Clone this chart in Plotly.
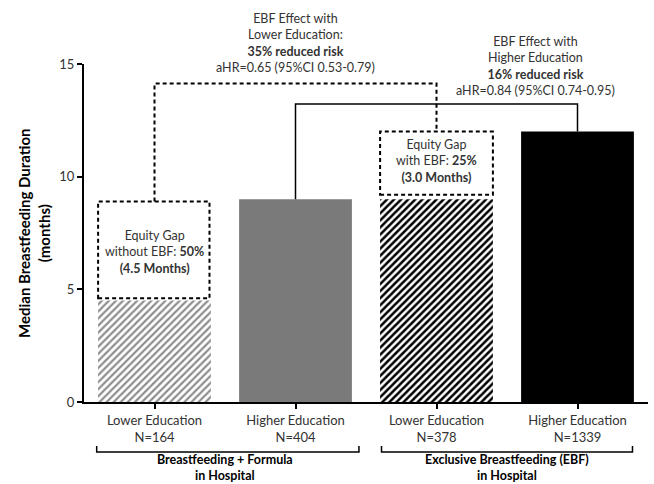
import plotly.graph_objects as go

# ---- data ----
categories = ["Lower Education<br>N=164", "Higher Education<br>N=404",
              "Lower Education<br>N=378", "Higher Education<br>N=1339"]
durations = [4.5, 9, 9, 12]
bar_colors = ["white", "#7a7a7a", "white", "black"]
hatch_colors = ["#8e8e8e", None, "black", None]
group_labels = ["<b>Breastfeeding + Formula<br>in Hospital</b>",
                "<b>Exclusive Breastfeeding (EBF)<br>in Hospital</b>"]
y_ticks = [0, 5, 10, 15]
gap_text = ["Equity Gap<br>without EBF: <b>50%</b><br><b>(4.5 Months)</b>",
            "Equity Gap<br>with EBF: <b>25%</b><br><b>(3.0 Months)</b>"]
effect_text = ["EBF Effect with<br>Lower Education:<br><b>35% reduced risk</b><br>aHR=0.65 (95%CI 0.53-0.79)",
               "EBF Effect with<br>Higher Education<br><b>16% reduced risk</b><br>aHR=0.84 (95%CI 0.74-0.95)"]

FONT = "Lato"
TXT = "#333333"
YMAX = 15
XMIN, XMAX = -0.5, 3.5
PLOT_H = 338.0
Y0_PX = 402.0


def px(x):  # data x -> paper
    return (x - XMIN) / (XMAX - XMIN)


def py(y):  # data y -> paper
    return y / YMAX


def pypx(pix):  # pixel row -> paper
    return (Y0_PX - pix) / PLOT_H


xs = list(range(len(categories)))

fig = go.Figure()
for i, (xv, yv) in enumerate(zip(xs, durations)):
    marker = dict(color=bar_colors[i], line=dict(width=0))
    if hatch_colors[i]:
        marker["pattern"] = dict(shape="/", fgcolor=hatch_colors[i], bgcolor="white",
                                 size=5, solidity=0.45 if i == 0 else 0.5,
                                 fillmode="replace")
    fig.add_trace(go.Bar(x=[xv], y=[yv], width=0.8, marker=marker, hoverinfo="skip"))

shapes = []
dash = "4px,3px"
# Equity-gap dashed boxes
shapes.append(dict(type="rect", xref="paper", yref="paper",
                   x0=px(0 - 0.4), x1=px(0 + 0.39),
                   y0=py(durations[0] + 0.1), y1=py(durations[1] - 0.1),
                   line=dict(color="black", width=2, dash=dash)))
shapes.append(dict(type="rect", xref="paper", yref="paper",
                   x0=px(2 - 0.4), x1=px(2 + 0.4),
                   y0=py(durations[2] + 0.2), y1=py(durations[3]),
                   line=dict(color="black", width=2, dash=dash)))
# dashed bracket (lower education effect)
shapes.append(dict(type="path", xref="paper", yref="paper",
                   path=f"M {px(0)},{py(durations[1]-0.1)} L {px(0)},{py(14.13)} L {px(2)},{py(14.13)} L {px(2)},{py(durations[3])}",
                   line=dict(color="black", width=2, dash=dash)))
# solid bracket (higher education effect)
shapes.append(dict(type="path", xref="paper", yref="paper",
                   path=f"M {px(1)},{py(durations[1])} L {px(1)},{py(13.22)} L {px(3)},{py(13.22)} L {px(3)},{py(durations[3])}",
                   line=dict(color="black", width=1.5)))

# bottom group brackets
yb = pypx(452)
yt = pypx(446)
for a, b in [(-0.41, 1.45), (1.61, 3.39)]:
    shapes.append(dict(type="path", xref="paper", yref="paper",
                       path=f"M {px(a)},{yt} L {px(a)},{yb} L {px(b)},{yb} L {px(b)},{yt}",
                       line=dict(color="black", width=1.5)))


def ann(x, y, text, size=12.5, color=TXT, **kw):
    d = dict(x=x, y=y, xref="paper", yref="paper", text=text, showarrow=False,
             xanchor="center", yanchor="middle",
             font=dict(family=FONT, size=size, color=color))
    d.update(kw)
    return d


annotations = [
    ann(px(0), py(6.66), gap_text[0]),
    ann(px(2), pypx(161), gap_text[1]),
    ann(px(1.0), pypx(43), effect_text[0]),
    ann(px(2.7), pypx(66), effect_text[1]),
]
for cx, lbl in zip([0.5, 2.5], group_labels):
    annotations.append(ann(px(cx), pypx(484), lbl, size=12.5, color="black",
                           yanchor="bottom", borderpad=0))
annotations.append(ann((34 - 84) / 564, 0.5,
                       "<b>Median Breastfeeding Duration<br>(months)</b>",
                       size=15, color="black", textangle=-90))

fig.update_layout(
    width=654, height=484,
    margin=dict(l=84, r=6, t=64, b=82, autoexpand=False),
    plot_bgcolor="white", paper_bgcolor="white",
    showlegend=False, barmode="overlay",
    shapes=shapes, annotations=annotations,
    font=dict(family=FONT, size=13, color=TXT),
    xaxis=dict(range=[XMIN, XMAX], tickvals=xs, ticktext=categories,
               showline=True, linecolor="black", linewidth=2,
               ticks="outside", ticklen=5, tickwidth=1.5, tickcolor="black",
               showgrid=False, zeroline=False,
               tickfont=dict(family=FONT, size=13, color=TXT)),
    yaxis=dict(range=[0, YMAX], tickvals=y_ticks,
               showline=True, linecolor="black", linewidth=2,
               ticks="outside", ticklen=5, tickwidth=1.5, tickcolor="black",
               showgrid=False, zeroline=False,
               tickfont=dict(family=FONT, size=13, color=TXT)),
)

fig.write_html("out.html", config={"displayModeBar": False},
               post_script="document.body.style.margin='0';document.body.style.overflow='hidden';")
